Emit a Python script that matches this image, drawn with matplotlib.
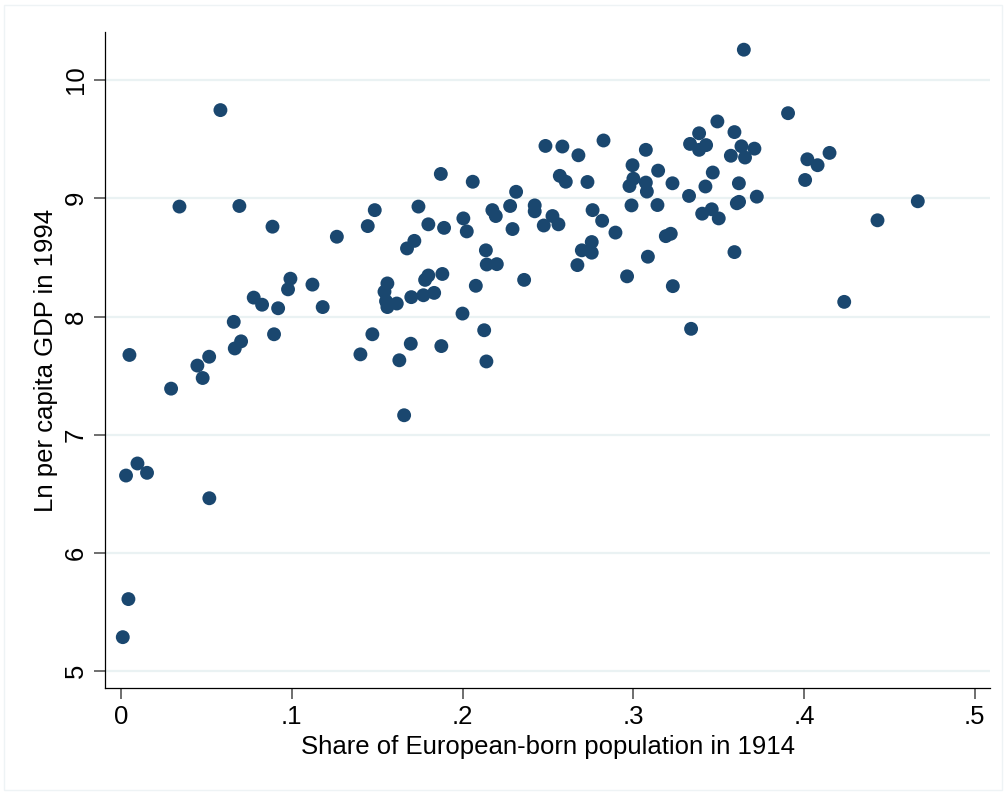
import matplotlib.pyplot as plt
from matplotlib.patches import Rectangle

plt.rcParams['font.family'] = ['Liberation Sans', 'DejaVu Sans']

# Share of European-born population in 1914
share_euro = [
    .0010, .0043, .0029, .0096, .0152, .0517, .0049, .0293, .0447, .0478,
    .0516, .0582, .0342, .0693, .0887, .0660, .0666, .0703, .0896, .0777,
    .0826, .0920, .0978, .0992, .1121, .1181, .1264, .1445, .1486, .1402,
    .1472, .1560, .1543, .1552, .1560, .1615, .1630, .1658, .1697, .1675,
    .1718, .1742, .1800, .1892, .1873, .1700, .1771, .1834, .1781, .1800,
    .1882, .1876, .2000, .2005, .2025, .2060, .2078, .2127, .2140, .2137,
    .2142, .2201, .2175, .2195, .2279, .2293, .2314, .2361, .2423, .2423,
    .2476, .2527, .2562, .2486, .2585, .2570, .2605, .2679, .2732, .2826,
    .2762, .2818, .2896, .2757, .2699, .2757, .2673, .2964, .2978, .2996,
    .3001, .2990, .3074, .3074, .3080, .3086, .3146, .3142, .3230, .3191,
    .3220, .3232, .3339, .3327, .3333, .3386, .3386, .3427, .3493, .3593,
    .3634, .3572, .3655, .3466, .3423, .3619, .3607, .3404, .3460, .3501,
    .3593, .3648, .3907, .3710, .4020, .4080, .4150, .4007, .3724, .4667,
    .4431, .4236, .3620,
]

# Ln per capita GDP in 1994
ln_gdp = [
    5.288, 5.610, 6.655, 6.757, 6.678, 6.463, 7.675, 7.390, 7.585, 7.480,
    7.660, 9.746, 8.930, 8.935, 8.760, 7.955, 7.730, 7.790, 7.850, 8.160,
    8.100, 8.070, 8.230, 8.320, 8.270, 8.080, 8.675, 8.765, 8.900, 7.680,
    7.850, 8.280, 8.210, 8.130, 8.080, 8.110, 7.630, 7.165, 7.770, 8.576,
    8.640, 8.930, 8.780, 8.750, 9.206, 8.164, 8.180, 8.200, 8.310, 8.347,
    8.360, 7.750, 8.025, 8.830, 8.720, 9.140, 8.260, 7.884, 7.620, 8.560,
    8.440, 8.443, 8.900, 8.850, 8.935, 8.740, 9.055, 8.310, 8.940, 8.890,
    8.770, 8.850, 8.780, 9.443, 9.438, 9.190, 9.140, 9.364, 9.138, 9.489,
    8.900, 8.810, 8.710, 8.630, 8.560, 8.540, 8.435, 8.340, 9.104, 9.280,
    9.166, 8.940, 9.410, 9.133, 9.057, 8.506, 9.234, 8.943, 9.127, 8.680,
    8.700, 8.257, 7.896, 9.020, 9.460, 9.550, 9.410, 9.450, 9.650, 9.560,
    9.440, 9.360, 9.345, 9.218, 9.100, 9.127, 8.958, 8.870, 8.907, 8.830,
    8.545, 10.257, 9.720, 9.420, 9.330, 9.280, 9.384, 9.155, 9.014, 8.975,
    8.814, 8.124, 8.970,
]

x_ticks = [0, .1, .2, .3, .4, .5]
x_ticklabels = ['0', '.1', '.2', '.3', '.4', '.5']
y_ticks = [5, 6, 7, 8, 9, 10]

fig = plt.figure(figsize=(10.06, 7.95), dpi=100)
fig.patches.append(Rectangle((0.004, 0.006), 0.992, 0.988, transform=fig.transFigure,
                             fill=False, edgecolor='#eef3f5', linewidth=1.0))

ax = fig.add_axes([0.1044, 0.1346, 0.8797, 0.8252])

ax.scatter(share_euro, ln_gdp, s=100, color='#1a476f', edgecolors='none', zorder=3)

ax.set_xlim(-0.0094, 0.509)
ax.set_ylim(4.858, 10.407)
ax.set_xticks(x_ticks)
ax.set_xticklabels(x_ticklabels)
ax.set_yticks(y_ticks)
ax.set_yticklabels([str(v) for v in y_ticks], rotation=90, va='center')

ax.yaxis.grid(True, color='#eaf2f3', linewidth=1.6)
ax.set_axisbelow(True)

for side in ['top', 'right']:
    ax.spines[side].set_visible(False)
for side in ['left', 'bottom']:
    ax.spines[side].set_linewidth(0.9)
    ax.spines[side].set_color('black')

ax.tick_params(axis='both', direction='out', length=8, width=1.2, color='#555555',
               labelsize=18.5, labelcolor='black', pad=4.5)

ax.set_xlabel('Share of European-born population in 1914', fontsize=18.5, labelpad=4)
ax.set_ylabel('Ln per capita GDP in 1994', fontsize=18.5, labelpad=4)

fig.savefig('out.png', dpi=100)
